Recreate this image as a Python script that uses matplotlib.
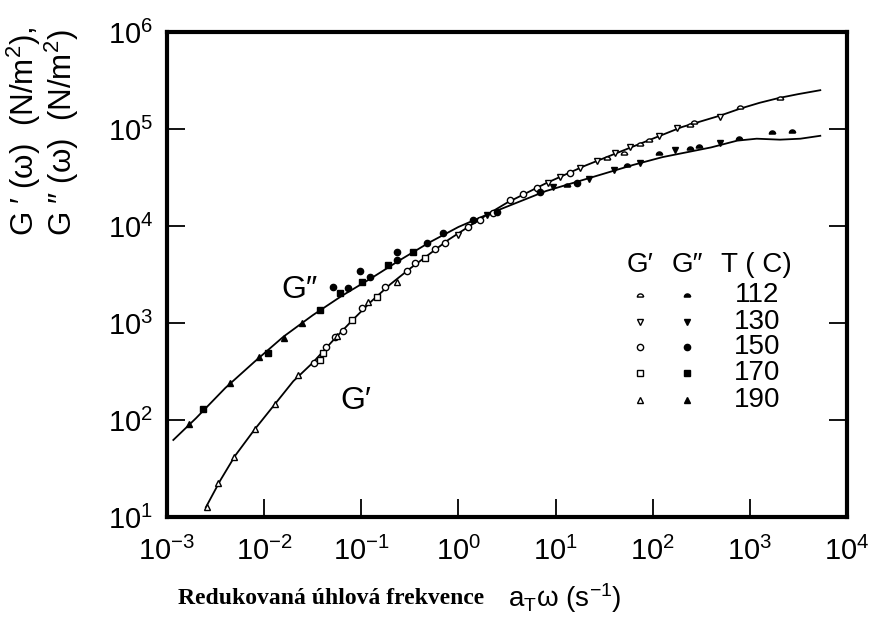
import numpy as np
import matplotlib
matplotlib.use('Agg')
import matplotlib.pyplot as plt

plt.rcParams['font.family'] = ['Liberation Sans', 'DejaVu Sans']
plt.rcParams['mathtext.fontset'] = 'custom'
plt.rcParams['mathtext.rm'] = 'Liberation Sans'
plt.rcParams['mathtext.it'] = 'Liberation Sans:italic'
plt.rcParams['mathtext.default'] = 'regular'

# master curves, log10 of (reduced frequency, modulus)
g2_line_lx = [-2.935, -2.7, -2.4, -2.1, -1.8, -1.5, -1.2, -0.9, -0.6, -0.3, 0.0, 0.3, 0.6,
              0.9, 1.2, 1.5, 1.8, 2.1, 2.4, 2.6, 2.87, 3.07, 3.31, 3.52, 3.725]
g2_line_ly = [1.794, 2.02, 2.33, 2.60, 2.86, 3.08, 3.28, 3.46, 3.65, 3.83, 3.99, 4.12, 4.24,
              4.36, 4.45, 4.54, 4.63, 4.71, 4.77, 4.81, 4.88, 4.90, 4.89, 4.90, 4.93]
g1_line_lx = [-2.6, -2.45, -2.3, -2.1, -1.9, -1.7, -1.5, -1.3, -1.1, -0.9, -0.7, -0.5, -0.3,
              -0.1, 0.1, 0.3, 0.5, 0.7, 0.9, 1.1, 1.3, 1.5, 1.7, 1.9, 2.1, 2.3, 2.5, 2.7,
              2.9, 3.1, 3.3, 3.5, 3.725]
g1_line_ly = [1.10, 1.38, 1.63, 1.90, 2.15, 2.40, 2.59, 2.81, 3.02, 3.22, 3.40, 3.56, 3.71,
              3.86, 3.99, 4.12, 4.24, 4.34, 4.44, 4.53, 4.62, 4.70, 4.78, 4.86, 4.94, 5.02,
              5.08, 5.14, 5.21, 5.27, 5.32, 5.36, 5.40]

temps = ['112', '130', '150', '170', '190']

# measured points per temperature: (log10 freq, log10 modulus)
g1_points = {
    '112': [(1.529, 4.698), (1.70, 4.756), (1.871, 4.845), (1.957, 4.887), (2.386, 5.041),
            (2.42, 5.075), (2.901, 5.224), (3.313, 5.316)],
    '130': [(0.0, 3.907), (0.925, 4.44), (1.047, 4.508), (1.253, 4.595), (1.425, 4.673),
            (1.614, 4.756), (1.768, 4.81), (2.06, 4.928), (2.249, 5.007), (2.695, 5.127)],
    '150': [(-1.486, 2.585), (-1.366, 2.75), (-1.19, 2.92), (-1.27, 2.859), (-0.995, 3.151),
            (-0.755, 3.368), (-0.531, 3.54), (-0.446, 3.615), (-0.24, 3.76), (-0.137, 3.822),
            (0.1, 3.993), (0.224, 4.062), (0.36, 4.131), (0.532, 4.268), (0.669, 4.33),
            (0.806, 4.388), (1.15, 4.543)],
    '170': [(-1.424, 2.619), (-1.39, 2.688), (-1.098, 3.031), (-0.84, 3.271), (-0.343, 3.667)],
    '190': [(-2.591, 1.106), (-2.472, 1.354), (-2.31, 1.622), (-2.097, 1.904), (-1.888, 2.165),
            (-1.648, 2.464), (-1.252, 2.866), (-0.927, 3.22), (-0.635, 3.426)],
}
g2_points = {
    '112': [(1.115, 4.423), (1.734, 4.629), (2.06, 4.75), (2.386, 4.801), (2.472, 4.825),
            (2.884, 4.904), (3.228, 4.972), (3.434, 4.982)],
    '130': [(0.292, 4.113), (0.978, 4.405), (1.339, 4.481), (1.597, 4.577), (1.871, 4.653),
            (2.232, 4.784), (2.695, 4.859)],
    '150': [(-1.133, 3.358), (-0.909, 3.477), (-0.635, 3.649), (-0.325, 3.822), (-0.154, 3.925),
            (0.155, 4.062), (0.395, 4.148), (0.84, 4.354), (1.22, 4.44), (-1.288, 3.368),
            (-1.012, 3.539), (-0.635, 3.735)],
    '170': [(-2.626, 2.113), (-1.957, 2.694), (-1.424, 3.134), (-1.218, 3.306), (-0.995, 3.426),
            (-0.72, 3.598), (-0.463, 3.735)],
    '190': [(-2.77, 1.955), (-2.351, 2.378), (-2.049, 2.646), (-1.795, 2.842), (-1.613, 2.997)],
}

# half-disc marker for 112 C
th = np.linspace(0, np.pi, 15)
dome = [(np.cos(t), np.sin(t) - 0.5) for t in th] + [(1.0, -0.5)]
markers = {'112': dome, '130': 'v', '150': 'o', '170': 's', '190': '^'}
msize = 4.5

fig = plt.figure(figsize=(8.73, 6.23), dpi=100)
ax = fig.add_axes([167 / 873, 1 - 517 / 623, 680 / 873, 485 / 623])

ax.plot(10 ** np.array(g2_line_lx), 10 ** np.array(g2_line_ly), color='black', lw=1.3)
ax.plot(10 ** np.array(g1_line_lx), 10 ** np.array(g1_line_ly), color='black', lw=1.3)

for t in temps:
    p = np.array(g1_points[t])
    ax.plot(10 ** p[:, 0], 10 ** p[:, 1], linestyle='none', marker=markers[t], ms=msize,
            mfc='white', mec='black', mew=1.0)
    p = np.array(g2_points[t])
    ax.plot(10 ** p[:, 0], 10 ** p[:, 1], linestyle='none', marker=markers[t], ms=msize,
            mfc='black', mec='black', mew=1.0)

ax.set_xscale('log')
ax.set_yscale('log')
ax.set_xlim(1e-3, 1e4)
ax.set_ylim(1e1, 1e6)
ax.set_xticks([10.0 ** k for k in range(-3, 5)])
ax.set_yticks([10.0 ** k for k in range(1, 7)])
ax.minorticks_off()
ax.tick_params(which='major', direction='in', length=13, width=1.3, labelsize=21,
               top=False, right=True)
ax.tick_params(axis='x', pad=14)
ax.tick_params(axis='y', pad=10)
for s in ax.spines.values():
    s.set_linewidth(3.0)

ax.text(10 ** -1.64, 10 ** 3.34, 'G\u2033', fontsize=23, ha='center', va='center')
ax.text(10 ** -1.06, 10 ** 2.2, 'G\u2032', fontsize=23, ha='center', va='center')

# legend block drawn by hand
head_y = 1 - (265 - 32) / 485
ax.text((640 - 167) / 680, head_y, 'G\u2032', transform=ax.transAxes, fontsize=20,
        ha='center', va='center')
ax.text((687 - 167) / 680, head_y, 'G\u2033', transform=ax.transAxes, fontsize=20,
        ha='center', va='center')
ax.text((756 - 167) / 680, head_y, 'T ( C)', transform=ax.transAxes, fontsize=20,
        ha='center', va='center')
row_px = [295, 322, 347, 373, 400]
for t, py in zip(temps, row_px):
    yy = 1 - (py - 32) / 485
    ax.plot([(640 - 167) / 680], [yy], transform=ax.transAxes, marker=markers[t], ms=msize,
            mfc='white', mec='black', mew=1.0, linestyle='none', clip_on=False)
    ax.plot([(687 - 167) / 680], [yy], transform=ax.transAxes, marker=markers[t], ms=msize,
            mfc='black', mec='black', mew=1.0, linestyle='none', clip_on=False)
    ax.text((757 - 167) / 680, yy, t, transform=ax.transAxes, fontsize=20,
            ha='center', va='center')

fig.text(43 / 873, 1 - 236 / 623, "G \u2032 (\u03c9)  (N/m$^2$),\nG \u2033 (\u03c9)  (N/m$^2$)",
         rotation=90, ha='center', va='bottom', multialignment='left', fontsize=22.5,
         linespacing=1.0)

fig.text(331 / 873, 1 - 598 / 623, 'Redukovaná úhlová frekvence', fontsize=17,
         fontweight='bold', family='Liberation Serif', ha='center', va='center')
fig.text(565 / 873, 1 - 598 / 623, 'a$_\\mathregular{T}$\u03c9 (s$^{-1}$)', fontsize=20,
         ha='center', va='center')

fig.savefig('out.png', dpi=100)
